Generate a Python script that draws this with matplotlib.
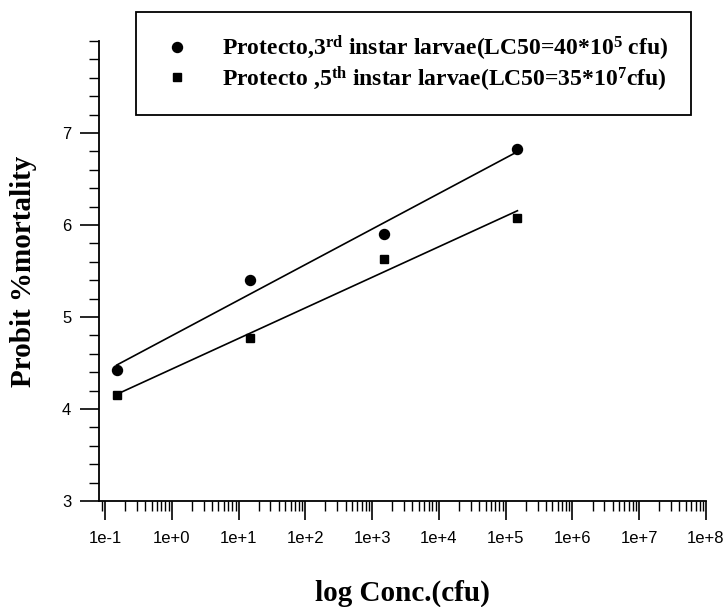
import numpy as np
import matplotlib
matplotlib.use("Agg")
import matplotlib.pyplot as plt
from matplotlib.patches import Rectangle
from matplotlib.ticker import LogLocator, FuncFormatter, FixedLocator, MultipleLocator, NullFormatter

# data
conc = [0.15, 15.0, 1.5e3, 1.5e5]
probit_3rd = [4.42, 5.40, 5.90, 6.83]
probit_5th = [4.15, 4.77, 5.63, 6.08]
label_3rd = r"Protecto,3$^{\mathrm{rd}}$ instar larvae(LC50=40*10$^{5}$ cfu)"
label_5th = r"Protecto ,5$^{\mathrm{th}}$ instar larvae(LC50=35*10$^{7}$cfu)"
y_ticks = [3, 4, 5, 6, 7]

plt.rcParams["mathtext.fontset"] = "custom"
plt.rcParams["mathtext.rm"] = "Liberation Serif:bold"
plt.rcParams["mathtext.bf"] = "Liberation Serif:bold"
plt.rcParams["mathtext.it"] = "Liberation Serif:bold"

W, H = 728, 607
fig = plt.figure(figsize=(W/100, H/100), dpi=100)
ax = fig.add_axes([99/W, 1-501/H, (706-99)/W, (501-41)/H])

x = np.array(conc)
for yv, mk, ms, lab in [(probit_3rd, "o", 7.2, label_3rd), (probit_5th, "s", 6.4, label_5th)]:
    y = np.array(yv)
    ax.plot(x, y, linestyle="none", marker=mk, color="black", markersize=ms, label=lab)
    # regression line on log scale
    k, b = np.polyfit(np.log10(x), y, 1)
    xs = np.array([x.min(), x.max()])
    ax.plot(xs, k*np.log10(xs) + b, color="black", linewidth=1.2)

ax.set_xscale("log")
ax.set_xlim(10**-1.09, 1e8)
ax.set_ylim(3, 8.0)

ax.xaxis.set_major_locator(FixedLocator([10.0**e for e in range(-1, 9)]))
ax.xaxis.set_major_formatter(FuncFormatter(lambda v, p: "1e%+d" % int(round(np.log10(v)))))
ax.xaxis.set_minor_locator(LogLocator(base=10, subs=np.arange(2, 10), numticks=30))
ax.xaxis.set_minor_formatter(NullFormatter())
ax.yaxis.set_major_locator(FixedLocator(y_ticks))
ax.yaxis.set_minor_locator(MultipleLocator(0.2))

for s in ["top", "right"]:
    ax.spines[s].set_visible(False)
for s in ["left", "bottom"]:
    ax.spines[s].set_linewidth(1.3)

ax.tick_params(axis="x", which="major", length=13.5, width=1.2, pad=8, labelsize=12)
ax.tick_params(axis="x", which="minor", length=7, width=1.0)
ax.tick_params(axis="y", which="major", length=14, width=1.2, pad=6, labelsize=12)
ax.tick_params(axis="y", which="minor", length=7, width=1.0)
for t in ax.get_xticklabels() + ax.get_yticklabels():
    t.set_family("Liberation Sans")

ax.set_xlabel("log Conc.(cfu)", family="Liberation Serif", fontweight="bold", fontsize=21, labelpad=24)
ax.set_ylabel("Probit %mortality", family="Liberation Serif", fontweight="bold", fontsize=21, labelpad=18)

# legend box sits above the axes, in figure pixels
fig.patches.append(Rectangle((136/W, 1-115/H), (691-136)/W, (115-12)/H, transform=fig.transFigure,
                             fill=False, edgecolor="black", linewidth=1.3))
leg = fig.legend(loc="center left", bbox_to_anchor=(165/W, 1-63.5/H),
                 prop={"family": "Liberation Serif", "weight": "bold", "size": 17},
                 frameon=False, borderpad=0, labelspacing=0.05,
                 handlelength=1.0, handletextpad=1.4, borderaxespad=0)

fig.savefig("out.png", dpi=100)
